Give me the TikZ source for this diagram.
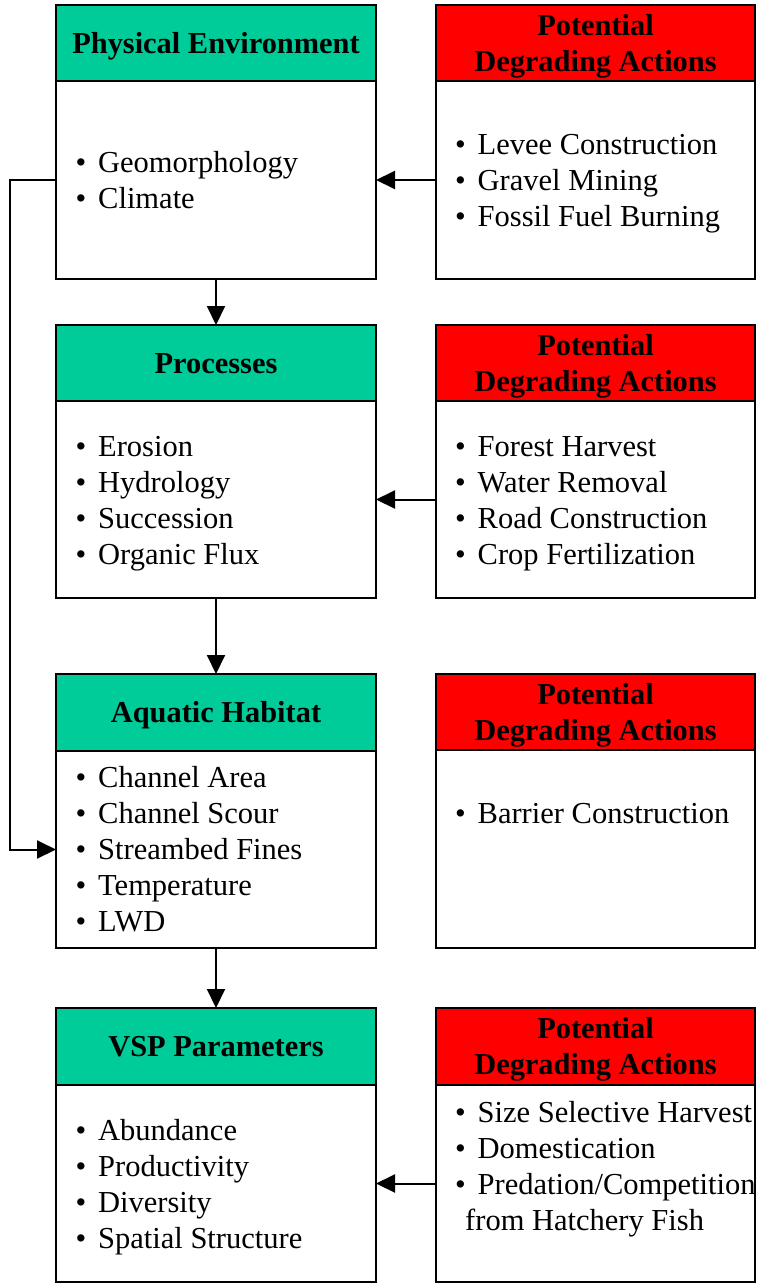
\documentclass[tikz,border=0pt]{standalone}
\usepackage{fontspec}
\setmainfont{Liberation Serif}
\usetikzlibrary{arrows.meta}
\definecolor{hdrgreen}{RGB}{0,204,153}
\definecolor{hdrred}{RGB}{255,0,0}
\newcommand\mystrut{\rule[-7.8pt]{0pt}{36pt}}
\newcommand\bulletbox{\mystrut\makebox[22.5pt][l]{•}}
\begin{document}
\begin{tikzpicture}[x=1pt,y=-1pt,
  hdr/.style={draw=black, line width=2pt, inner sep=0pt, outer sep=0pt, minimum height=76pt,
    font=\fontsize{30.4}{36}\selectfont\bfseries, align=center},
  lhdr/.style={hdr, fill=hdrgreen, minimum width=320pt},
  rhdr/.style={hdr, fill=hdrred, minimum width=319pt},
  lbody/.style={draw=black, line width=2pt, fill=white, inner sep=0pt, outer sep=0pt,
    minimum width=320pt, minimum height=198pt},
  rbody/.style={lbody, minimum width=319pt},
  txt/.style={font=\fontsize{30.5}{36}\selectfont, align=left, inner sep=0pt, anchor=west},
  arr/.style={line width=2pt, -{Triangle[length=19pt,width=18pt]}}]
\useasboundingbox (0,0) rectangle (756,1283);

% Row 1
\node[lbody] (b1) at (216,180) {};
\node[lhdr] (h1) at (216,43) {\mystrut Physical Environment};
\node[rbody] (rb1) at (595.5,180) {};
\node[rhdr] (rh1) at (595.5,43) {\mystrut Potential\\\mystrut Degrading Actions};
\node[txt] (t1) at (75.5,180) {\bulletbox Geomorphology\\\bulletbox Climate};
\node[txt] (rt1) at (455,180) {\bulletbox Levee Construction\\\bulletbox Gravel Mining\\\bulletbox Fossil Fuel Burning};

% Row 2
\node[lbody, minimum height=197pt] (b2) at (216,499.5) {};
\node[lhdr] (h2) at (216,363) {\mystrut Processes};
\node[rbody, minimum height=197pt] (rb2) at (595.5,499.5) {};
\node[rhdr] (rh2) at (595.5,363) {\mystrut Potential\\\mystrut Degrading Actions};
\node[txt] (t2) at (75.5,500) {\bulletbox Erosion\\\bulletbox Hydrology\\\bulletbox Succession\\\bulletbox Organic Flux};
\node[txt] (rt2) at (455,500) {\bulletbox Forest Harvest\\\bulletbox Water Removal\\\bulletbox Road Construction\\\bulletbox Crop Fertilization};

% Row 3
\node[lbody, minimum height=197pt] (b3) at (216,849.5) {};
\node[lhdr, minimum height=77pt] (h3) at (216,712.5) {\mystrut Aquatic Habitat};
\node[rbody, minimum height=198pt] (rb3) at (595.5,849) {};
\node[rhdr] (rh3) at (595.5,712) {\mystrut Potential\\\mystrut Degrading Actions};
\node[txt] (t3) at (75.5,849.5) {\bulletbox Channel Area\\\bulletbox Channel Scour\\\bulletbox Streambed Fines\\\bulletbox Temperature\\\bulletbox LWD};
\node[txt] (rt3) at (455,813) {\bulletbox Barrier Construction};

% Row 4
\node[lbody, minimum height=197pt] (b4) at (216,1183.5) {};
\node[lhdr, minimum height=77pt] (h4) at (216,1046.5) {\mystrut VSP Parameters};
\node[rbody, minimum height=197pt] (rb4) at (595.5,1183.5) {};
\node[rhdr, minimum height=77pt] (rh4) at (595.5,1046.5) {\mystrut Potential\\\mystrut Degrading Actions};
\node[txt] (t4) at (75.5,1184) {\bulletbox Abundance\\\bulletbox Productivity\\\bulletbox Diversity\\\bulletbox Spatial Structure};
\node[txt] (rt4) at (455,1166) {\bulletbox Size Selective Harvest\\\bulletbox Domestication\\\bulletbox Predation/Competition\\\mystrut\hspace{10pt}from Hatchery Fish};

% Connectors
\draw[arr] (rb1.west) -- (b1.east);
\draw[arr] (rb2.west) -- (b2.east);
\draw[arr] (rb4.west) -- (b4.east);
\draw[arr] (b1.south) -- (h2.north);
\draw[arr] (b2.south) -- (h3.north);
\draw[arr] (b3.south) -- (h4.north);
\draw[arr] (b1.west) -- ++(-46,0) |- (b3.west);
\end{tikzpicture}
\end{document}
